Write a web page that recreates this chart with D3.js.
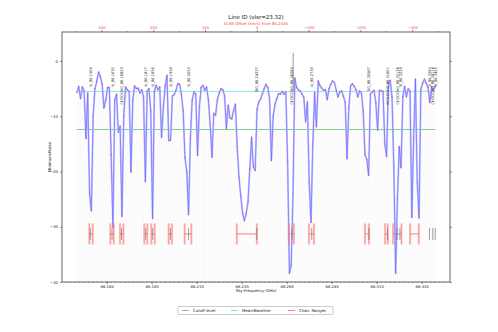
<!DOCTYPE html>
<html>
<head>
<meta charset="utf-8">
<script src="https://cdn.jsdelivr.net/npm/d3@7"></script>
<style>
  body { margin: 0; background: #fff; }
  svg { display: block; font-family: "DejaVu Sans", sans-serif; }
</style>
</head>
<body>
<svg id="chart" width="498" height="332"></svg>
<script>
// Spectrum: evenly spaced channels starting at chanStartGHz, values in units of noise
const chanStartGHz = 86.1435;
const chanWidthGHz = 0.001;
const spectrum = [
  -5.7, -4.6, -6.8, -4.7, -5.5, -14.0, -5.8, -24.0, -27.1, -10.0,
  -5.0, -3.7, -2.0, -2.8, -4.2, -8.5, -7.0, -4.8, -4.8, -17.0,
  -30.1, -7.0, -6.0, -12.9, -11.8, -28.1, -10.0, -4.7, -5.2, -5.5,
  -20.1, -7.1, -4.5, -5.0, -4.9, -5.8, -5.2, -6.5, -21.8, -5.5,
  -5.0, -9.0, -28.5, -5.5, -4.4, -5.2, -4.7, -13.8, -8.3, -4.6,
  -2.6, -14.4, -14.3, -6.3, -6.1, -5.3, -4.1, -4.2, -6.0, -9.0,
  -17.5, -20.0, -27.8, -14.0, -7.1, -5.6, -6.0, -17.1, -8.3, -4.8,
  -4.4, -5.3, -4.7, -7.0, -11.5, -17.4, -9.5, -9.8, -7.0, -5.8,
  -5.0, -5.2, -6.3, -12.2, -8.0, -10.3, -10.5, -9.0, -7.8, -15.5,
  -21.0, -24.5, -27.5, -28.9, -27.6, -25.5, -19.5, -13.8, -19.2, -19.8,
  -8.8, -7.4, -6.9, -5.9, -5.0, -4.2, -4.8, -6.8, -18.0, -10.0,
  -7.8, -6.8, -5.9, -6.0, -5.5, -6.0, -5.6, -18.0, -38.4, -37.0,
  -24.0, -3.1, -4.8, -5.2, -5.4, -6.0, -6.5, -11.0, -7.4, -22.0,
  -29.2, -15.0, -5.7, -11.9, -3.6, -4.5, -4.9, -5.3, -5.2, -7.0,
  -5.0, -4.2, -3.6, -3.9, -5.3, -6.5, -5.6, -5.4, -6.4, -7.5,
  -17.7, -8.5, -4.5, -4.1, -4.6, -5.2, -6.5, -5.4, -5.8, -9.0,
  -17.0, -17.8, -20.7, -6.0, -5.6, -5.3, -7.5, -12.5, -5.3, -5.4,
  -5.5, -15.0, -17.3, -4.0, -3.5, -6.5, -19.0, -38.4, -25.0, -15.5,
  -19.3, -6.5, -4.6, -6.5, -5.0, -5.5, -28.3, -14.0, -3.3, -22.0,
  -28.4, -5.2, -4.0, -3.3, -4.0, -4.8, -7.5, -4.7, -5.3, -4.6
];

const baselineLevel = -5.5;
const cutoffLevel = -12.4;
const restFreqGHz = 86.2434;
const vlsr = 23.32;

// Line identifications (name carries its frequency in GHz)
const lineNames = [
  "U_86.1509", "U_86.1630", "CH3OCHO_86.16825", "U_86.1817", "U_86.1856",
  "U_86.1954", "U_86.2055", "SiO_86.24337", "CH3OCHO_86.26285", "U_86.2739",
  "SO_86.30567", "HCOOCH3_86.31601", "CH3OCHO_86.32136", "U_86.3229",
  "U_86.3393", "CH3OCHO_86.34116", "U_86.3425"
];
const strongLineGHz = 86.2636;

// Channel ranges used for each feature
const rangeStarts = [86.15037, 86.16205, 86.16743, 86.18091, 86.18480, 86.19445, 86.20333,
  86.23231, 86.26127, 86.27237, 86.30348, 86.31464, 86.31908, 86.32853];
const rangeEnds = [86.15226, 86.16394, 86.16928, 86.18258, 86.18668, 86.19628, 86.20706,
  86.24342, 86.26404, 86.27514, 86.30570, 86.31614, 86.32375, 86.33337];
const rangeLevel = -31.3;

const yTicks = [0, -10, -20, -30, -40];
const xTicks = [86.160, 86.185, 86.210, 86.235, 86.260, 86.285, 86.310, 86.335];
const velTicks = [300, 200, 100, 0, -100, -200, -300];
const legendLabels = ["Cutoff level", "Mean/Baseline", "Chan. Ranges"];
const legendColors = ["#6cbf6c", "#6fe0e0", "#ff7a7a"];

(function draw() {
  const C_KMS = 299792.458;
  const svg = d3.select("#chart");
  const pl = 62, pr = 450, pt = 32, pb = 282;

  const x = d3.scaleLinear().domain([86.1352, 86.3507]).range([pl, pr]);
  const y = d3.scaleLinear().domain([-40, 5.25]).range([pb, pt]);
  const toVel = f => C_KMS * (1 - f / restFreqGHz);
  const xv = d3.scaleLinear().domain(x.domain().map(toVel)).range([pl, pr]);

  const pts = spectrum.map((v, i) => ({ f: chanStartGHz + i * chanWidthGHz, v }));
  const fLo = pts[0].f, fHi = pts[pts.length - 1].f;

  // faint channel stripes under the spectrum
  svg.append("g").selectAll("line").data(pts).join("line")
    .attr("x1", d => x(d.f)).attr("x2", d => x(d.f))
    .attr("y1", d => y(d.v)).attr("y2", y(-40))
    .attr("stroke", "#f2f2f2").attr("stroke-width", 0.5);

  // cutoff and baseline levels
  svg.append("line").attr("x1", x(fLo)).attr("x2", x(fHi))
    .attr("y1", y(cutoffLevel)).attr("y2", y(cutoffLevel))
    .attr("stroke", legendColors[0]).attr("stroke-width", 0.8);
  svg.append("line").attr("x1", x(fLo)).attr("x2", x(fHi))
    .attr("y1", y(baselineLevel)).attr("y2", y(baselineLevel))
    .attr("stroke", legendColors[1]).attr("stroke-width", 0.8);

  // spectrum
  const line = d3.line().x(d => x(d.f)).y(d => y(d.v));
  svg.append("path").datum(pts).attr("d", line)
    .attr("fill", "none").attr("stroke", "#c6c6ff").attr("stroke-width", 1.9)
    .attr("stroke-linejoin", "round");
  svg.append("path").datum(pts).attr("d", line)
    .attr("fill", "none").attr("stroke", "#5c5cff").attr("stroke-width", 0.6);
  svg.append("g").selectAll("circle").data(pts).join("circle")
    .attr("cx", d => x(d.f)).attr("cy", d => y(d.v)).attr("r", 0.65)
    .attr("fill", "#e0508a");

  // strong line marker
  svg.append("line").attr("x1", x(strongLineGHz)).attr("x2", x(strongLineGHz))
    .attr("y1", y(1.5)).attr("y2", y(-5.5)).attr("stroke", "#555").attr("stroke-width", 0.6);

  // channel ranges
  const rg = svg.append("g");
  rangeStarts.forEach((f1, i) => {
    const f2 = rangeEnds[i];
    [f1, f2].forEach(f => {
      rg.append("line").attr("x1", x(f)).attr("x2", x(f))
        .attr("y1", y(-29.4)).attr("y2", y(-33.2))
        .attr("stroke", "#ff8a8a").attr("stroke-opacity", 0.45).attr("stroke-width", 2.2);
      rg.append("line").attr("x1", x(f)).attr("x2", x(f))
        .attr("y1", y(-29.4)).attr("y2", y(-33.2))
        .attr("stroke", "#ff6a6a").attr("stroke-width", 0.5);
    });
    rg.append("line").attr("x1", x(f1)).attr("x2", x(f2))
      .attr("y1", y(rangeLevel)).attr("y2", y(rangeLevel))
      .attr("stroke", "#ff5a5a").attr("stroke-width", 0.8);
  });

  // line id ticks and labels
  const lineFreqs = lineNames.map(n => +n.split("_")[1]);
  svg.append("g").selectAll("line").data(lineFreqs).join("line")
    .attr("x1", d => x(d)).attr("x2", d => x(d))
    .attr("y1", y(-30.2)).attr("y2", y(-32.4))
    .attr("stroke", "#777").attr("stroke-width", 0.7);
  svg.append("g").selectAll("text").data(lineNames).join("text")
    .attr("transform", (d, i) => `translate(${x(lineFreqs[i]) + 0.3},${y(-1.1)}) rotate(-90)`)
    .attr("dy", "0.35em").attr("text-anchor", "end")
    .attr("font-size", 3.6).attr("fill", "#222").text(d => d);

  // frame
  svg.append("rect").attr("x", pl).attr("y", pt).attr("width", pr - pl).attr("height", pb - pt)
    .attr("fill", "none").attr("stroke", "#222").attr("stroke-width", 0.7);

  // bottom axis
  const xAxis = d3.axisBottom(x).tickValues(xTicks).tickFormat(d3.format(".3f")).tickSize(2).tickPadding(1.5);
  const gx = svg.append("g").attr("transform", `translate(0,${pb})`).call(xAxis);
  const xMinor = d3.range(86.1375, 86.350, 0.0025);
  svg.append("g").selectAll("line").data(xMinor).join("line")
    .attr("x1", d => x(d)).attr("x2", d => x(d)).attr("y1", pb).attr("y2", pb + 1)
    .attr("stroke", "#222").attr("stroke-width", 0.4);

  // left axis
  const fmtSigned = d => d3.format("d")(d).replace("-", "\u2212");
  const yAxis = d3.axisLeft(y).tickValues(yTicks).tickFormat(fmtSigned).tickSize(2).tickPadding(2);
  const gy = svg.append("g").attr("transform", `translate(${pl},0)`).call(yAxis);
  // right axis ticks
  const gr = svg.append("g").attr("transform", `translate(${pr},0)`)
    .call(d3.axisRight(y).tickValues(yTicks).tickFormat("").tickSize(2));

  // top velocity axis
  const vAxis = d3.axisTop(xv).tickValues(velTicks).tickFormat(fmtSigned).tickSize(2).tickPadding(0.8);
  const gv = svg.append("g").attr("transform", `translate(0,${pt})`).call(vAxis);
  const vMinor = d3.range(350, -400, -50).filter(v => v % 100 !== 0);
  svg.append("g").selectAll("line").data(vMinor).join("line")
    .attr("x1", d => xv(d)).attr("x2", d => xv(d)).attr("y1", pt).attr("y2", pt - 1)
    .attr("stroke", "#222").attr("stroke-width", 0.4);

  [gx, gy, gv, gr].forEach(g => {
    g.select(".domain").remove();
    g.selectAll(".tick line").attr("stroke", "#222").attr("stroke-width", 0.5);
    g.selectAll("text").attr("font-size", 3.8).attr("font-family", "DejaVu Sans, sans-serif")
      .attr("fill", "#222");
  });
  gv.selectAll("text").attr("fill", "#ff4444");

  // titles
  svg.append("text").attr("x", (pl + pr) / 2).attr("y", 18.8).attr("text-anchor", "middle")
    .attr("font-size", 5.5).attr("fill", "#111").text(`Line ID (vlsr=${vlsr})`);
  svg.append("text").attr("x", (pl + pr) / 2).attr("y", 24.6).attr("text-anchor", "middle")
    .attr("font-size", 3.9).attr("fill", "#ff4444").text(`VLSR Offset (km/s) from ${restFreqGHz}`);
  svg.append("text").attr("x", (pl + pr) / 2).attr("y", 292).attr("text-anchor", "middle")
    .attr("font-size", 3.9).attr("fill", "#222").text("Sky Frequency (GHz)");
  svg.append("text").attr("transform", `translate(51,${(pt + pb) / 2}) rotate(-90)`)
    .attr("text-anchor", "middle").attr("font-size", 3.9).attr("fill", "#222").text("Minimum/Noise");

  // legend
  const lg = svg.append("g");
  lg.append("rect").attr("x", 178).attr("y", 306.5).attr("width", 155).attr("height", 8).attr("rx", 1)
    .attr("fill", "#fff").attr("stroke", "#999").attr("stroke-width", 0.5);
  const legX = [182, 231, 288];
  legendLabels.forEach((lab, i) => {
    lg.append("line").attr("x1", legX[i]).attr("x2", legX[i] + 7).attr("y1", 310.5).attr("y2", 310.5)
      .attr("stroke", legendColors[i]).attr("stroke-width", 0.9);
    lg.append("text").attr("x", legX[i] + 11).attr("y", 312).attr("font-size", 3.9)
      .attr("fill", "#222").text(lab);
  });
})();
</script>
</body>
</html>
